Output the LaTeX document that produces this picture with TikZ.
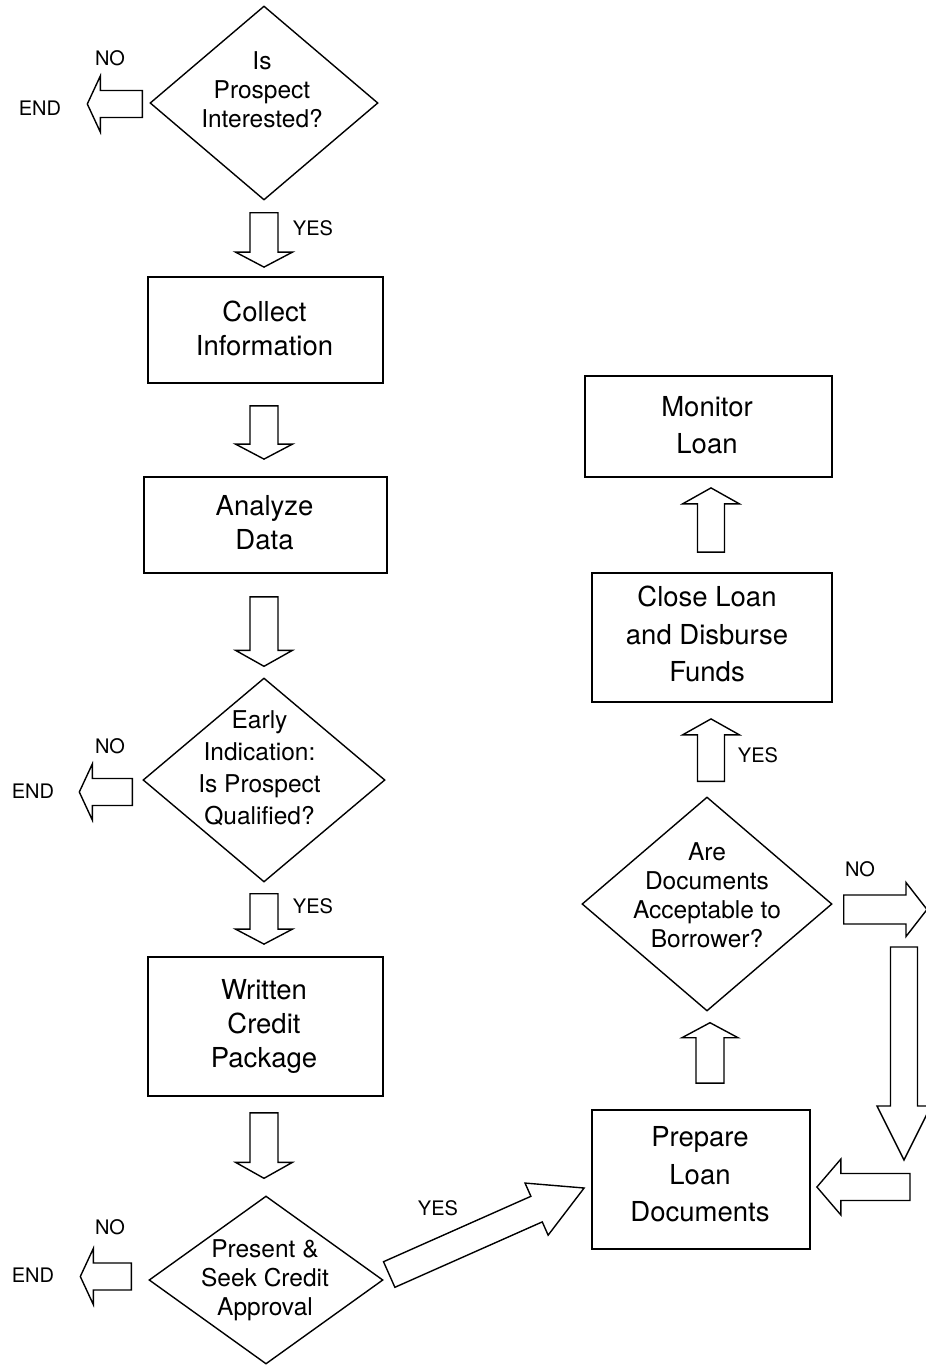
\documentclass[tikz,border=0pt]{standalone}
\usepackage{fontspec}
\setmainfont{TeX Gyre Heros}
\usetikzlibrary{calc,shapes.geometric}

\tikzset{
  stepbox/.style={draw, line width=1.8pt, inner sep=0pt},
  btext/.style={align=center, inner sep=0pt, font=\fontsize{27.5}{34}\selectfont},
  tallbtext/.style={btext, font=\fontsize{27.5}{37.5}\selectfont},
  decision/.style={draw, diamond, line width=1.4pt, inner sep=0pt},
  dtext/.style={align=center, inner sep=0pt, font=\fontsize{24.5}{29}\selectfont},
  lbl/.style={inner sep=0pt, font=\fontsize{20}{24}\selectfont},
  blockarrow/.style={draw, line width=1.4pt, fill=white, line join=miter},
}

% hollow block arrow: #1 start, #2 tip, #3 shaft half width,
% #4 head half width, #5 head length (all in pt)
\newcommand\fatarrow[5]{%
  \coordinate (fa-s) at #1;
  \coordinate (fa-t) at #2;
  \coordinate (fa-h) at ($(fa-t)!#5pt!(fa-s)$);
  \draw[blockarrow]
    ($(fa-s)!#3pt!90:(fa-t)$) -- ($(fa-h)!#3pt!90:(fa-t)$) --
    ($(fa-h)!#4pt!90:(fa-t)$) -- (fa-t) --
    ($(fa-h)!#4pt!-90:(fa-t)$) -- ($(fa-h)!#3pt!-90:(fa-t)$) --
    ($(fa-s)!#3pt!-90:(fa-t)$) -- cycle;}

\begin{document}
\begin{tikzpicture}[x=1pt, y=-1pt]
\useasboundingbox[fill=white] (0,0) rectangle (926,1365);
\begin{scope}
\clip (0,0) rectangle (926,1365);

% ---------- left column ----------
\node[decision, minimum width=228pt, minimum height=194pt] (q1) at (264,103) {};
\node[dtext] (q1t) at ($(q1)+(-2,-13)$) {Is\\Prospect\\Interested?};
\node[lbl] (no1) at (110,58) {NO};
\node[lbl] (end1) at (40,108) {END};

\node[stepbox, minimum width=235pt, minimum height=106pt] (collect) at (265.5,330) {};
\node[btext] (collectt) at ($(collect)+(-1,-2)$) {Collect\\Information};
\node[stepbox, minimum width=243pt, minimum height=96pt] (analyze) at (265.5,525) {};
\node[btext] (analyzet) at ($(analyze)+(-1,-2)$) {Analyze\\Data};

\node[decision, minimum width=242pt, minimum height=204pt] (q2) at (264,780) {};
\node[dtext, font=\fontsize{24.5}{32}\selectfont] (q2t) at ($(q2)+(-4.5,-12)$)
  {Early\\Indication:\\Is Prospect\\Qualified?};
\node[lbl] (no2) at (110,746) {NO};
\node[lbl] (end2) at (33,791) {END};

\node[stepbox, minimum width=235pt, minimum height=139pt] (written) at (265.5,1026.5) {};
\node[btext] (writtent) at ($(written)+(-1.5,0)$) {Written\\Credit\\Package};

\node[decision, minimum width=234pt, minimum height=168pt] (q3) at (266,1280) {};
\node[dtext] (q3t) at ($(q3)+(-1,0)$) {Present \&\\Seek Credit\\Approval};
\node[lbl] (no3) at (110,1227) {NO};
\node[lbl] (end3) at (33,1275) {END};

% ---------- right column ----------
\node[stepbox, minimum width=247pt, minimum height=101pt] (monitor) at (708.5,426.5) {};
\node[tallbtext] (monitort) at ($(monitor)+(-1.5,-1.5)$) {Monitor\\Loan};
\node[stepbox, minimum width=240pt, minimum height=129pt] (close) at (712,637.5) {};
\node[tallbtext] (closet) at ($(close)+(-5,-3.5)$) {Close Loan\\and Disburse\\Funds};
\node[decision, minimum width=250pt, minimum height=214pt] (q4) at (707,904) {};
\node[dtext] (q4t) at ($(q4)+(0,-9)$) {Are\\Documents\\Acceptable to\\Borrower?};
\node[stepbox, minimum width=218pt, minimum height=139pt] (prepare) at (701,1179.5) {};
\node[tallbtext] (preparet) at ($(prepare)+(-1,-5)$) {Prepare\\Loan\\Documents};

\node[lbl] (yes1) at (313,228) {YES};
\node[lbl] (yes2) at (313,906) {YES};
\node[lbl] (yes3) at (438,1208) {YES};
\node[lbl] (yes4) at (758,755) {YES};
\node[lbl] (no4) at (860,869) {NO};

% free ends of the return loop at the right margin
\coordinate (loopA) at (927,909.5);
\coordinate (loopB) at (904,947);
\coordinate (loopC) at (904,1160);
\coordinate (loopD) at (910,1187);

% ---------- block arrows ----------
\fatarrow{($(q1.west)+(-7,1)$)}{($(end1.east)+(26,-4)$)}{13.5}{28}{13}
\fatarrow{($(q1.south)+(0,12)$)}{($(collect.north)+(-1.5,-9)$)}{14}{28.5}{15}
\fatarrow{($(collect.south)+(-1.5,22)$)}{($(analyze.north)+(-1.5,-17)$)}{14}{28.5}{15}
\fatarrow{($(analyze.south)+(-1.5,23)$)}{($(q2.north)+(0,-11)$)}{14}{28.5}{16}
\fatarrow{($(q2.west)+(-10,12)$)}{($(end2.east)+(25,1)$)}{13.5}{28}{13}
\fatarrow{($(q2.south)+(0,11)$)}{($(written.north)+(-1.5,-12)$)}{14}{28.5}{15}
\fatarrow{($(written.south)+(-1.5,16)$)}{($(q3.north)+(-2,-17)$)}{14}{28.5}{16}
\fatarrow{($(q3.west)+(-17,-3.5)$)}{($(end3.east)+(26,1.5)$)}{13.5}{28}{13}
\fatarrow{($(q3.east)+(5.5,-5.5)$)}{($(prepare.west)+(-7,8.5)$)}{14}{28.5}{52}

\fatarrow{($(prepare.north)+(9,-26)$)}{($(q4.south)+(3,11)$)}{14}{28}{15}
\fatarrow{($(q4.north)+(4,-15)$)}{($(close.south)+(-1,16)$)}{13.5}{28.5}{16}
\fatarrow{($(close.north)+(-1,-20)$)}{($(monitor.south)+(2.5,10)$)}{13.5}{28.5}{16}
\fatarrow{($(q4.east)+(11,5.5)$)}{(loopA)}{14.5}{27}{21}
\fatarrow{(loopB)}{(loopC)}{13.5}{27}{54}
\fatarrow{(loopD)}{($(prepare.east)+(6,7.5)$)}{13.5}{28}{24}
\end{scope}
\end{tikzpicture}
\end{document}
